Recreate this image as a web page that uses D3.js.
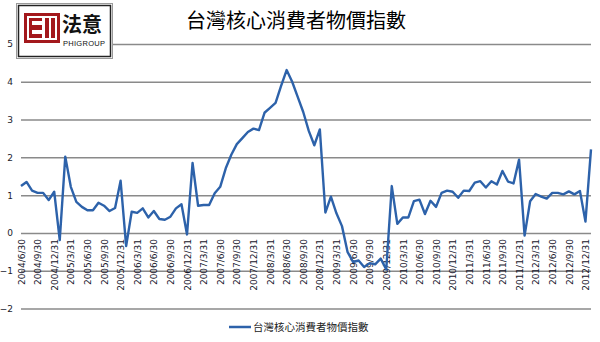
<!DOCTYPE html>
<html><head><meta charset="utf-8">
<script src="https://cdn.jsdelivr.net/npm/d3@7"></script>
<style>html,body{margin:0;padding:0;background:#fff;}svg{display:block;}</style>
</head><body>
<svg id="c" width="600" height="342"></svg>
<script>
const title = "台灣核心消費者物價指數";
const seriesName = "台灣核心消費者物價指數";
const months = [
"2004/6","2004/7","2004/8","2004/9","2004/10","2004/11","2004/12",
"2005/1","2005/2","2005/3","2005/4","2005/5","2005/6","2005/7","2005/8","2005/9","2005/10","2005/11","2005/12",
"2006/1","2006/2","2006/3","2006/4","2006/5","2006/6","2006/7","2006/8","2006/9","2006/10","2006/11","2006/12",
"2007/1","2007/2","2007/3","2007/4","2007/5","2007/6","2007/7","2007/8","2007/9","2007/10","2007/11","2007/12",
"2008/1","2008/2","2008/3","2008/4","2008/5","2008/6","2008/7","2008/8","2008/9","2008/10","2008/11","2008/12",
"2009/1","2009/2","2009/3","2009/4","2009/5","2009/6","2009/7","2009/8","2009/9","2009/10","2009/11","2009/12",
"2010/1","2010/2","2010/3","2010/4","2010/5","2010/6","2010/7","2010/8","2010/9","2010/10","2010/11","2010/12",
"2011/1","2011/2","2011/3","2011/4","2011/5","2011/6","2011/7","2011/8","2011/9","2011/10","2011/11","2011/12",
"2012/1","2012/2","2012/3","2012/4","2012/5","2012/6","2012/7","2012/8","2012/9","2012/10","2012/11","2012/12",
"2013/1"];
const values = [
1.24,1.35,1.12,1.06,1.06,0.87,1.09,
-0.19,2.02,1.22,0.82,0.69,0.60,0.60,0.80,0.72,0.58,0.66,1.38,
-0.35,0.56,0.53,0.65,0.41,0.58,0.37,0.35,0.43,0.65,0.76,-0.04,
1.85,0.72,0.74,0.74,1.05,1.22,1.71,2.07,2.35,2.51,2.67,2.76,
2.72,3.18,3.31,3.44,3.89,4.31,4.00,3.60,3.20,2.70,2.32,2.74,
0.54,0.96,0.52,0.18,-0.50,-0.77,-0.73,-0.90,-0.80,-0.83,-0.68,-0.97,
1.24,0.24,0.41,0.41,0.84,0.88,0.50,0.85,0.69,1.06,1.12,1.09,
0.93,1.12,1.11,1.33,1.37,1.20,1.37,1.28,1.64,1.36,1.31,1.94,
-0.07,0.84,1.03,0.96,0.91,1.06,1.06,1.02,1.10,1.02,1.11,0.30,
2.21];
const tickLabels = [
"2004/6/30","2004/9/30","2004/12/31",
"2005/3/31","2005/6/30","2005/9/30","2005/12/31",
"2006/3/31","2006/6/30","2006/9/30","2006/12/31",
"2007/3/31","2007/6/30","2007/9/30","2007/12/31",
"2008/3/31","2008/6/30","2008/9/30","2008/12/31",
"2009/3/31","2009/6/30","2009/9/30","2009/12/31",
"2010/3/31","2010/6/30","2010/9/30","2010/12/31",
"2011/3/31","2011/6/30","2011/9/30","2011/12/31",
"2012/3/31","2012/6/30","2012/9/30","2012/12/31"];
const yTicks = [-2,-1,0,1,2,3,4,5];

const svg = d3.select("#c");
const x = d3.scalePoint().domain(months).range([21, 591]);
const y = d3.scaleLinear().domain([-2, 5]).range([308.5, 44]);

// gridlines
const yAxis = d3.axisLeft(y).tickValues(yTicks).tickSize(-570).tickFormat(d3.format("d"));
const gy = svg.append("g").attr("transform","translate(21,0)").call(yAxis);
gy.select(".domain").remove();
gy.selectAll(".tick line").attr("stroke","#8a8a8a").attr("stroke-width",1.5);
gy.selectAll(".tick text").attr("x",-8).attr("font-family","DejaVu Sans").attr("font-size","9px").attr("fill","#1b1b2b");

// x labels
const xAxis = d3.axisBottom(x).tickValues(months.filter((m,i)=>i%3===0)).tickSize(0)
  .tickFormat((m)=>tickLabels[months.indexOf(m)/3]);
const gx = svg.append("g").attr("transform","translate(0,"+y(0)+")").call(xAxis);
gx.select(".domain").remove();
gx.selectAll(".tick text")
  .attr("transform","rotate(-90)")
  .attr("x",-6).attr("y",0).attr("dy","0.35em")
  .attr("text-anchor","end")
  .attr("font-family","DejaVu Sans").attr("font-size","9px").attr("fill","#14142a");

// line
const line = d3.line().x((d,i)=>x(months[i])).y(d=>y(d));
svg.append("path").datum(values).attr("d",line)
  .attr("fill","none").attr("stroke","#2d62aa").attr("stroke-width",2.4).attr("stroke-linejoin","round");

// title
svg.append("text").attr("x",296).attr("y",28).attr("text-anchor","middle")
  .attr("font-family","Noto Sans CJK TC").attr("font-size","20px").attr("fill","#000").text(title);

// legend
svg.append("line").attr("x1",229).attr("x2",251).attr("y1",327).attr("y2",327)
  .attr("stroke","#2d62aa").attr("stroke-width",2.5);
svg.append("text").attr("x",253).attr("y",331).attr("font-family","Noto Sans CJK TC")
  .attr("font-size","10.5px").attr("fill","#222").text(seriesName);

// logo
const lg = svg.append("g");
lg.append("rect").attr("x",16.5).attr("y",3.5).attr("width",96).attr("height",55).attr("fill","#fff").attr("stroke","#9a9a9a").attr("stroke-width",1);
lg.append("rect").attr("x",18.5).attr("y",5.5).attr("width",92).attr("height",51).attr("fill","#fff").attr("stroke","#222").attr("stroke-width",1.5);
const red = "#a3181c";
lg.append("rect").attr("x",24).attr("y",13).attr("width",36).attr("height",30).attr("fill",red);
lg.append("rect").attr("x",27).attr("y",16).attr("width",30).attr("height",24).attr("fill","#fff");
lg.append("rect").attr("x",29).attr("y",18).attr("width",13).attr("height",20).attr("fill",red);
lg.append("rect").attr("x",32).attr("y",21).attr("width",10).attr("height",4).attr("fill","#fff");
lg.append("rect").attr("x",32).attr("y",30).attr("width",10).attr("height",4).attr("fill","#fff");
lg.append("rect").attr("x",45).attr("y",18).attr("width",4).attr("height",20).attr("fill",red);
lg.append("rect").attr("x",51).attr("y",18).attr("width",4).attr("height",20).attr("fill",red);
lg.append("text").attr("x",62).attr("y",32).attr("font-family","Noto Sans CJK TC").attr("font-weight","bold")
  .attr("font-size","20px").attr("fill","#111").text("法意");
lg.append("text").attr("x",63).attr("y",46).attr("font-family","Liberation Sans")
  .attr("font-size","7.5px").attr("fill","#111").attr("textLength",42).text("PHIGROUP");
</script>
</body></html>
